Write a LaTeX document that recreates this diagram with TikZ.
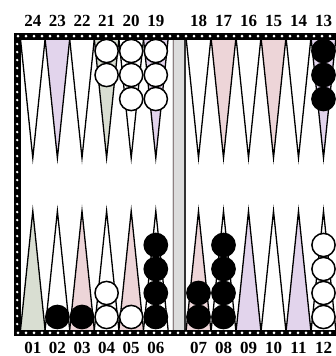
\documentclass[tikz,border=0pt]{standalone}
\usepackage{fontspec}
\setmainfont{Liberation Serif}

\definecolor{lilac}{HTML}{E2D4EC}
\definecolor{blush}{HTML}{EDD5D8}
\definecolor{sage}{HTML}{D9DED2}
\definecolor{bargrey}{HTML}{DCDCDC}

\tikzset{
  pip/.style={draw=black, line width=1.3pt, line join=miter},
  white checker/.style={draw=black, line width=1.5pt, fill=white},
  black checker/.style={draw=black, line width=1.5pt, fill=black},
  pointlabel/.style={font=\bfseries\fontsize{17}{17}\selectfont, inner sep=0pt},
  rim/.style={fill=black},
  rimdot/.style={fill=white},
}

\begin{document}
\begin{tikzpicture}[x=1pt, y=-1pt]
\useasboundingbox (0,0) rectangle (336,356);

% bar
\fill[bargrey] (172,39) rectangle (186,330);
\draw[line width=0.8pt, blush!60!black] (173,39) -- (173,330);
\draw[line width=1.2pt, black!80] (185,39) -- (185,330);

% top points
\foreach \cx/\col in {32.8/white, 57.4/lilac, 82.0/white, 106.6/sage, 131.2/white, 155.8/lilac,
                      198.5/white, 223.5/blush, 248.5/white, 273.5/blush, 298.5/white, 323.5/lilac}
  \filldraw[pip, fill=\col] (\cx-12.3,39) -- (\cx,158) -- (\cx+12.3,39);

% bottom points
\foreach \cx/\col in {32.8/sage, 57.4/white, 82.0/blush, 106.6/white, 131.2/blush, 155.8/white,
                      198.5/blush, 223.5/white, 248.5/lilac, 273.5/white, 298.5/lilac, 323.5/white}
  \filldraw[pip, fill=\col] (\cx-12.3,330) -- (\cx,211) -- (\cx+12.3,330);

% checkers
\foreach \cx/\cy in {106.6/51, 106.6/75, 131.2/51, 131.2/75, 131.2/99, 155.8/51, 155.8/75, 155.8/99,
                     106.6/317, 106.6/293, 131.2/317,
                     323.5/317, 323.5/293, 323.5/269, 323.5/245}
  \draw[white checker] (\cx,\cy) circle (11.6);
\foreach \cx/\cy in {323.5/51, 323.5/75, 323.5/99,
                     57.4/317, 82.0/317,
                     155.8/317, 155.8/293, 155.8/269, 155.8/245,
                     198.5/317, 198.5/293,
                     223.5/317, 223.5/293, 223.5/269, 223.5/245}
  \draw[black checker] (\cx,\cy) circle (11.6);

% rim
\fill[rim] (14,33) rectangle (336,39.5);
\fill[rim] (14,329.5) rectangle (336,336);
\fill[rim] (14,33) rectangle (20.5,336);
\foreach \x in {18,26,...,334} {
  \fill[rimdot] (\x,36.2) circle (1.5);
  \fill[rimdot] (\x,332.8) circle (1.5);
}
\foreach \y in {44,52,...,326}
  \fill[rimdot] (17.2,\y) circle (1.3);

% labels
\foreach \n/\cx in {24/32.8, 23/57.4, 22/82.0, 21/106.6, 20/131.2, 19/155.8,
                    18/198.5, 17/223.5, 16/248.5, 15/273.5, 14/298.5, 13/323.5}
  \node[pointlabel] (top\n) at (\cx,21) {\n};
\foreach \n/\cx in {01/32.8, 02/57.4, 03/82.0, 04/106.6, 05/131.2, 06/155.8,
                    07/198.5, 08/223.5, 09/248.5, 10/273.5, 11/298.5, 12/323.5}
  \node[pointlabel] (bot\n) at (\cx,348) {\n};
\end{tikzpicture}
\end{document}
